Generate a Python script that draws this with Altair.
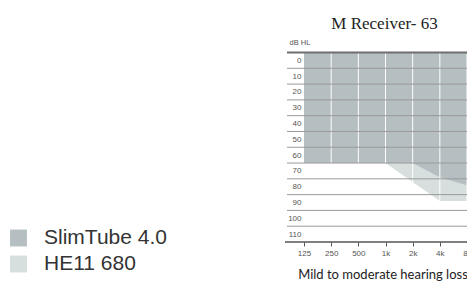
import json
import altair as alt
import pandas as pd

# ---- data ----
freq_labels = ["125", "250", "500", "1k", "2k", "4k", "8k"]
freq_index = [0, 1, 2, 3, 4, 5, 6]
slimtube_db = [65, 65, 65, 65, 65, 74, 79]   # lower edge of SlimTube 4.0 fitting range
he11_db = [65, 65, 65, 65, 77, 89, 89]       # lower edge of HE11 680 fitting range
db_labels = [0, 10, 20, 30, 40, 50, 60, 70, 80, 90, 100, 110]
grid_db = [5, 15, 25, 35, 45, 55, 65, 75, 85, 95, 105]
series_names = ["SlimTube 4.0", "HE11 680"]
series_colors = ["#b5bec0", "#d6dfdd"]
title_text = "M Receiver- 63"
caption_text = "Mild to moderate hearing loss"

TOP, BOTTOM = -5, 115
W, H = 163, 189.5

df = pd.DataFrame({
    "f": freq_index * 2,
    "db": slimtube_db + he11_db,
    "series": [series_names[0]] * 7 + [series_names[1]] * 7,
})

xs = alt.Scale(domain=[0, 6], nice=False, zero=False)
ys = alt.Scale(domain=[TOP, BOTTOM], reverse=True, nice=False, zero=False)

label_expr = json.dumps(freq_labels) + "[datum.value]"
x_axis = alt.Axis(
    values=freq_index, labelExpr=label_expr, title=None, grid=False,
    domain=False, ticks=True, tickSize=4, tickColor="#555555",
    labelFont="Liberation Sans", labelFontSize=8, labelColor="#555555",
    labelPadding=3, labelFlush=False, labelOverlap=False)
y_axis = alt.Axis(
    values=db_labels, title="dB HL", titleAngle=0, titleFont="Liberation Sans",
    titleFontSize=7.5, titleFontWeight="normal", titleColor="#555555",
    titleX=-15, titleY=-6, titleAlign="left", titleBaseline="bottom",
    grid=False, domain=False, ticks=False, labelOverlap=False,
    labelFont="Liberation Sans", labelFontSize=8, labelColor="#555555",
    labelPadding=3)

color = alt.Color(
    "series:N",
    scale=alt.Scale(domain=series_names, range=series_colors),
    legend=alt.Legend(
        title=None, orient="none", legendX=-296, legendY=175,
        symbolType="square", symbolSize=285, symbolStrokeWidth=0,
        symbolOpacity=1,
        labelFont="Liberation Sans", labelFontSize=21, labelColor="#333333",
        labelOffset=15, rowPadding=4,
    ),
)

base = alt.Chart(df)

area_he = base.transform_filter(alt.datum.series == series_names[1]).mark_area(
    opacity=1, interpolate="linear"
).encode(
    x=alt.X("f:Q", scale=xs, axis=x_axis),
    y=alt.Y("db:Q", scale=ys, stack=None, axis=y_axis),
    y2=alt.datum(TOP),
    color=color,
)

area_slim = base.transform_filter(alt.datum.series == series_names[0]).mark_area(
    opacity=1, interpolate="linear"
).encode(
    x=alt.X("f:Q", scale=xs, axis=x_axis),
    y=alt.Y("db:Q", scale=ys, stack=None, axis=y_axis),
    y2=alt.datum(TOP),
    color=color,
)

vgrid = alt.Chart(pd.DataFrame({"f": freq_index[1:], "a": TOP, "b": BOTTOM})).mark_rule(
    color="#ffffff", strokeWidth=1
).encode(
    x=alt.X("f:Q", scale=xs, axis=x_axis),
    y=alt.Y("a:Q", scale=ys, axis=y_axis),
    y2="b:Q",
)

hgrid = alt.Chart(pd.DataFrame({"db": grid_db})).mark_rule(
    color="#9a9a9a", strokeWidth=1
).encode(
    y=alt.Y("db:Q", scale=ys, axis=y_axis),
    x=alt.value(-17),
    x2=alt.value(W),
)

top_line = alt.Chart(pd.DataFrame({"db": [TOP]})).mark_rule(
    color="#6e6e6e", strokeWidth=2
).encode(
    y=alt.Y("db:Q", scale=ys, axis=y_axis),
    x=alt.value(-17),
    x2=alt.value(W),
)

bottom_line = alt.Chart(pd.DataFrame({"db": [BOTTOM]})).mark_rule(
    color="#555555", strokeWidth=1.5
).encode(
    y=alt.Y("db:Q", scale=ys, axis=y_axis),
    x=alt.value(-19),
    x2=alt.value(W),
)

title = alt.Chart(pd.DataFrame({"t": [title_text]})).mark_text(
    font="Liberation Serif", fontSize=17, color="#222222", align="center",
    baseline="alphabetic"
).encode(
    text="t:N",
    x=alt.value(W / 2 - 1),
    y=alt.value(-24),
)

caption = alt.Chart(pd.DataFrame({"t": [caption_text]})).mark_text(
    font="Lato", fontSize=13, color="#222222", align="center",
    baseline="alphabetic"
).encode(
    text="t:N",
    x=alt.value(W / 2 - 2.5),
    y=alt.value(226.5),
)

chart = alt.layer(
    area_he, area_slim, vgrid, hgrid, top_line, bottom_line, title, caption
).properties(
    width=W,
    height=H,
    autosize=alt.AutoSizeParams(type="none"),
    padding={"left": 296, "top": 44.5, "right": 0, "bottom": 40},
).configure_view(stroke=None).configure_axis(labelFontWeight="normal")

chart.save("out.html", embed_options={"renderer": "svg", "actions": False})
